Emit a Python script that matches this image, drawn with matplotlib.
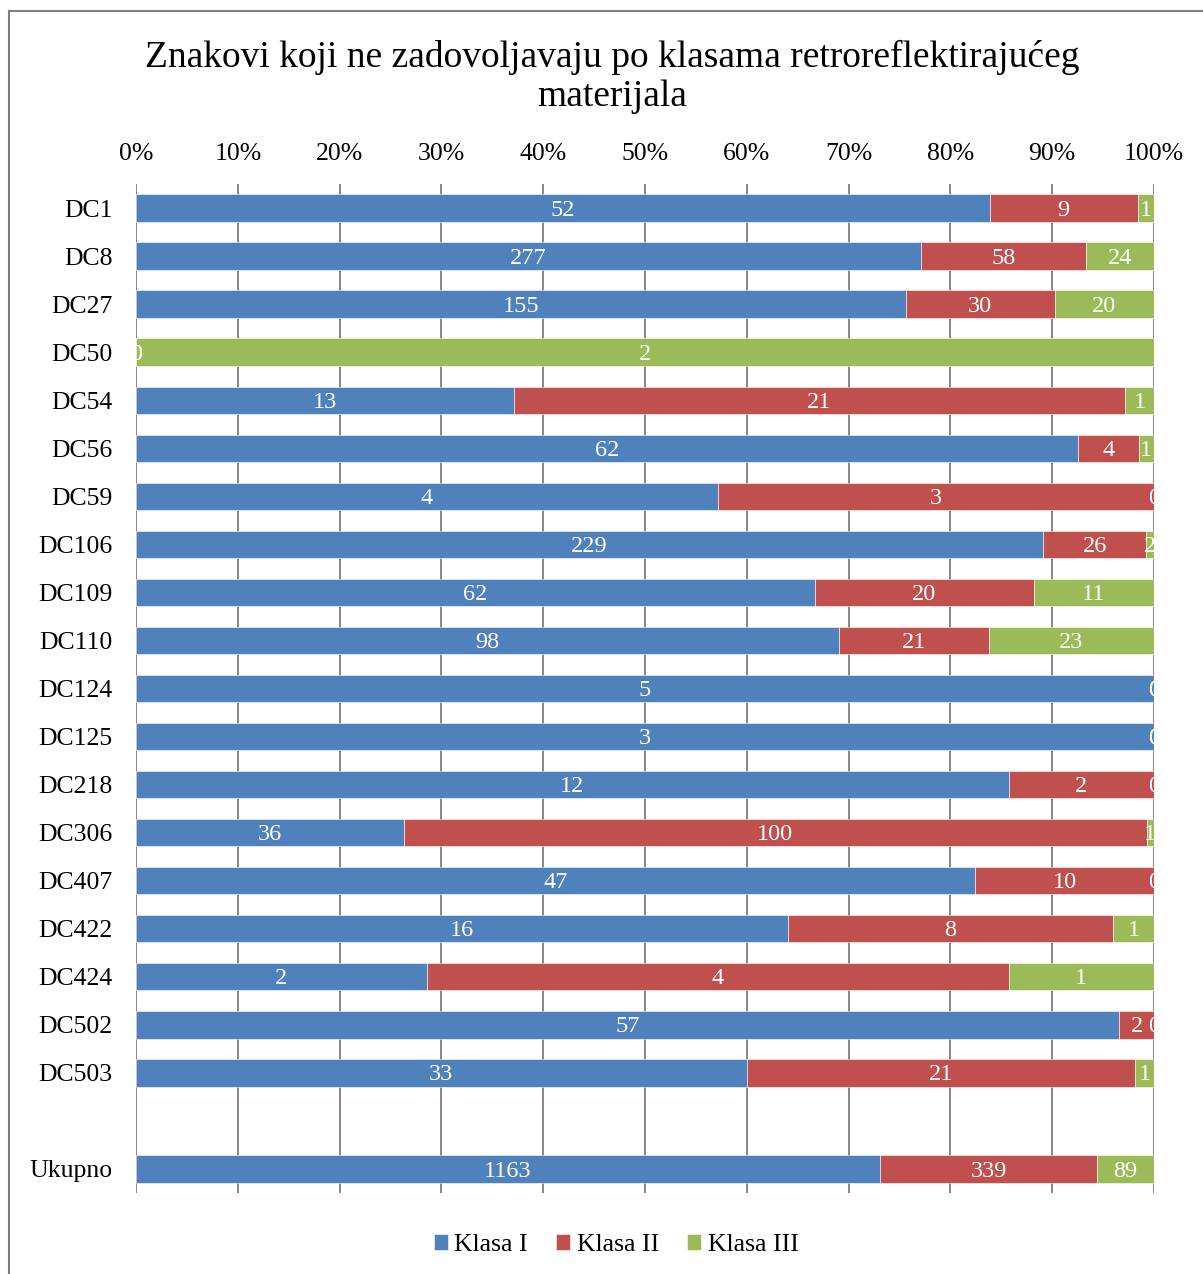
import matplotlib
matplotlib.use("Agg")
import matplotlib.pyplot as plt
from matplotlib.patches import Rectangle
import numpy as np

plt.rcParams['font.family'] = ['Liberation Serif', 'DejaVu Serif']

categories = ["DC1", "DC8", "DC27", "DC50", "DC54", "DC56", "DC59", "DC106", "DC109",
              "DC110", "DC124", "DC125", "DC218", "DC306", "DC407", "DC422", "DC424",
              "DC502", "DC503", "", "Ukupno"]
klasa1 = [52, 277, 155, 0, 13, 62, 4, 229, 62, 98, 5, 3, 12, 36, 47, 16, 2, 57, 33, None, 1163]
klasa2 = [9, 58, 30, 0, 21, 4, 3, 26, 20, 21, 0, 0, 2, 100, 10, 8, 4, 2, 21, None, 339]
klasa3 = [1, 24, 20, 2, 1, 1, 0, 2, 11, 23, 0, 0, 0, 1, 0, 1, 1, 0, 1, None, 89]
series_names = ["Klasa I", "Klasa II", "Klasa III"]
colors = ["#4F81BD", "#C0504D", "#9BBB59"]
xticks = [0, 10, 20, 30, 40, 50, 60, 70, 80, 90, 100]

W, H = 1203, 1274
fig = plt.figure(figsize=(W / 100, H / 100), dpi=100)
ax = fig.add_axes([136 / W, 1 - 1193 / H, (1154 - 136) / W, (1193 - 184) / H])

series = [klasa1, klasa2, klasa3]
n = len(categories)
for i in range(n):
    if klasa1[i] is None:
        continue
    vals = [s[i] for s in series]
    tot = sum(vals)
    left = 0.0
    for j, v in enumerate(vals):
        w = 100.0 * v / tot
        ax.barh(i, w, left=left, height=0.57, color=colors[j], edgecolor='#FFFFFF',
                linewidth=0.4, zorder=3, label=series_names[j] if i == 0 else None)
        t = ax.annotate(str(v), (left + w / 2, i), xytext=(0, -1.5), textcoords='offset points',
                        ha='center', va='center', color='white', fontsize=17.5, zorder=4)
        t.set_clip_on(True)
        left += w

ax.set_xlim(0, 100)
ax.set_ylim(n - 0.5, -0.5)
ax.set_yticks(range(n))
ax.set_yticklabels(categories, fontsize=18.5)
ax.set_xticks(xticks)
ax.set_xticklabels([f"{t}%" for t in xticks], fontsize=18.5)
ax.xaxis.tick_top()
ax.tick_params(axis='x', length=0, pad=14)
ax.tick_params(axis='y', length=0, pad=17)
ax.grid(axis='x', color='#868686', linewidth=1.4, zorder=0)
ax.set_axisbelow(True)
for s in ax.spines.values():
    s.set_visible(False)

fig.text(612 / W, 1 - 77 / H, "Znakovi koji ne zadovoljavaju po klasama retroreflektirajućeg\nmaterijala",
         ha='center', va='center', fontsize=27, linespacing=1.2)

handles, labels = ax.get_legend_handles_labels()
fig.legend(handles, labels, loc='center', bbox_to_anchor=(616 / W, 1 - 1245 / H), ncol=3,
           frameon=False, fontsize=18.5, handlelength=0.55, handleheight=0.55,
           handletextpad=0.25, columnspacing=1.1)

fig.add_artist(Rectangle((9 / W, -0.1), 1.2, 1.1 - 11 / H, transform=fig.transFigure,
                         fill=False, edgecolor='#7F7F7F', linewidth=1.5))

fig.savefig("out.png", dpi=100)
